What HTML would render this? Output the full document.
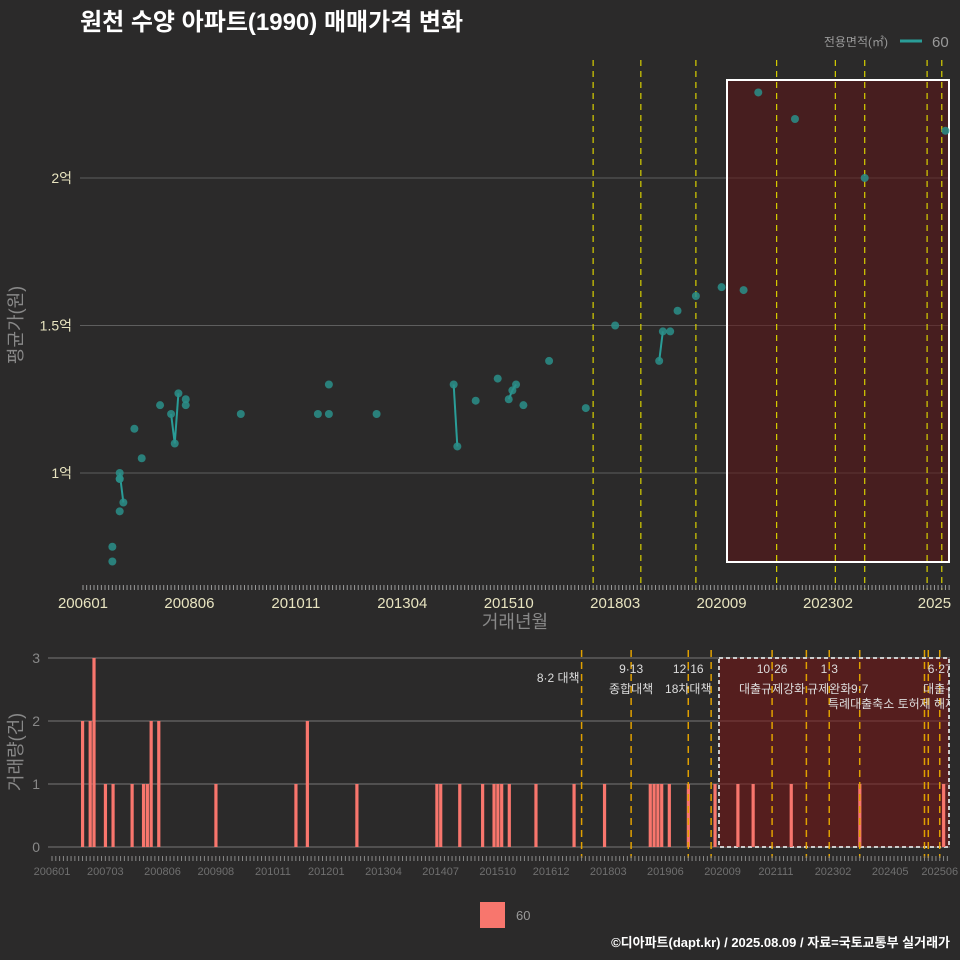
<!DOCTYPE html>
<html><head><meta charset="utf-8"><style>
body{margin:0;background:#2b2a2a;}
svg{display:block;font-family:"Liberation Sans","Noto Sans CJK KR",sans-serif;}
</style></head><body>
<svg id="c" width="960" height="960" viewBox="0 0 960 960">
<rect width="960" height="960" fill="#2b2a2a"/>
<text x="80" y="30" font-size="24" font-weight="bold" fill="#fff">원천 수양 아파트(1990) 매매가격 변화</text>
<text x="888" y="46" font-size="12" fill="#999" text-anchor="end">전용면적(㎡)</text>
<line x1="900" y1="41" x2="922" y2="41" stroke="#2a9d98" stroke-width="3"/>
<text x="932" y="47" font-size="15" fill="#999">60</text>
<g id="top"></g><g id="bot"></g>
<text x="515" y="628" font-size="18" fill="#888" text-anchor="middle">거래년월</text>
<text transform="translate(22,325) rotate(-90)" font-size="18" fill="#888" text-anchor="middle">평균가(원)</text>
<text transform="translate(22,752) rotate(-90)" font-size="18" fill="#888" text-anchor="middle">거래량(건)</text>
<rect x="480" y="902" width="25" height="26" fill="#f8766d"/>
<text x="516" y="920" font-size="13" fill="#999">60</text>
<text x="950" y="947" font-size="13" font-weight="bold" fill="#fff" text-anchor="end">©디아파트(dapt.kr) / 2025.08.09 / 자료=국토교통부 실거래가</text>
</svg>
<script>
// months since 2006-01
const priceMonths=[8,8,10,10,10,10,11,14,16,21,24,25,26,28,28,43,64,67,67,80,101,102,107,113,116,117,118,120,127,137,145,157,158,160,162,167,174,180,184,194,213,235];
const priceValues=[7500,7000,8700,9800,9800,10000,9000,11500,10500,12300,12000,11000,12700,12500,12300,12000,12000,12000,13000,12000,13000,10900,12450,13200,12500,12800,13000,12300,13800,12200,15000,13800,14800,14800,15500,16000,16300,16200,22900,22000,20000,21600];
const volMonths=[8,10,11,14,16,21,24,25,26,28,43,64,67,80,101,102,107,113,116,117,118,120,127,137,145,157,158,159,160,162,167,174,180,184,194,212,234];
const volValues=[2,2,3,1,1,1,1,1,2,2,1,1,2,1,1,1,1,1,1,1,1,1,1,1,1,1,1,1,1,1,1,1,1,1,1,1,1];
const yTicks=[10000,15000,20000];
const yTickLabels=["1억","1.5억","2억"];
const vTicks=[0,1,2,3];
const topLabelMonths=[0,29,58,87,116,145,174,203,232];
const topLabels=["200601","200806","201011","201304","201510","201803","202009","202302","2025"];
const botLabelMonths=[0,14,29,43,58,72,87,102,117,131,146,161,176,190,205,220,233];
const botLabels=["200601","200703","200806","200908","201011","201201","201304","201407","201510","201612","201803","201906","202009","202111","202302","202405","202506"];
const policyTop=[139,152,167,189,205,213,230,234];
const policyBot=[139,152,167,173,189,198,204,212,229,230,233];
const notes=[[139,"","8·2 대책"],[152,"9·13","종합대책"],[167,"12·16","18차대책"],[189,"10·26","대출규제강화"],[204,"1·3","규제완화"],[212,"","9·7"],[233,"6·27","대출규"]];
const NS="http://www.w3.org/2000/svg";
const xT=m=>83+3.67*m, yT=v=>473-(v-10000)*0.0295;
const xB=m=>52+3.81*m, yB=v=>847-v*63;
function mk(par,tag,at){const e=document.createElementNS(NS,tag);for(const k in at)e.setAttribute(k,at[k]);par.appendChild(e);return e;}
const T=document.getElementById('top'),B=document.getElementById('bot');
yTicks.forEach((v,i)=>{
 const g=mk(T,'line',{x1:80,x2:950,y1:yT(v),y2:yT(v),stroke:'#5e5e5e'});
 
 
 const t=mk(T,'text',{x:72,y:yT(v)+5,'font-size':14,fill:'#e8e4c0','text-anchor':'end'});t.textContent=yTickLabels[i];
 
 
});
const r1=mk(T,'rect',{x:727,y:80,width:222,height:482,fill:'rgba(95,20,22,0.55)',stroke:'#fff','stroke-width':2});


policyTop.forEach(m=>{const l=mk(T,'line',{x1:xT(m),x2:xT(m),y1:60,y2:590,stroke:'#d8d000','stroke-width':1.2,'stroke-dasharray':'6,5'});
 
 });
for(let m=0;m<=236;m++){mk(T,'line',{x1:xT(m),x2:xT(m),y1:585,y2:590,stroke:'#999'});}
topLabelMonths.forEach((m,i)=>{const t=mk(T,'text',{x:xT(m),y:608,'font-size':15,fill:'#e8e4c0','text-anchor':'middle'});t.textContent=topLabels[i];
 
 });
for(let i=1;i<priceMonths.length;i++){const d=priceMonths[i]-priceMonths[i-1];if(d===1){
 const l=mk(T,'line',{x1:xT(priceMonths[i-1]),y1:yT(priceValues[i-1]),x2:xT(priceMonths[i]),y2:yT(priceValues[i]),stroke:'#2a9d98','stroke-width':2});
 
 }}
priceMonths.forEach((m,i)=>{const c=mk(T,'circle',{cx:xT(m),cy:yT(priceValues[i]),r:4,fill:'#2a8f8a','fill-opacity':0.85});
 
 });
// bottom
vTicks.forEach(v=>{const g=mk(B,'line',{x1:48,x2:950,y1:yB(v),y2:yB(v),stroke:'#777'});
 
 
 const t=mk(B,'text',{x:40,y:yB(v)+5,'font-size':14,fill:'#888','text-anchor':'end'});t.textContent=v;
 
 });
const r2=mk(B,'rect',{x:719,y:658,width:230,height:189,fill:'rgba(120,20,20,0.55)',stroke:'#ccc','stroke-width':2,'stroke-dasharray':'4,3'});


volMonths.forEach((m,i)=>{const b=mk(B,'rect',{x:xB(m)-1.5,y:yB(volValues[i]),width:3.2,height:volValues[i]*63,fill:'#f8766d'});
 
 });
policyBot.forEach(m=>{const l=mk(B,'line',{x1:xB(m),x2:xB(m),y1:650,y2:858,stroke:'#e0a000','stroke-width':1.5,'stroke-dasharray':'7,5'});
 
 });
notes.forEach(n=>{const x=xB(n[0]);
 if(n[1]){const t=mk(B,'text',{x:x,y:673,'font-size':12,fill:'#ddd','text-anchor':'middle'});t.textContent=n[1];
  
  }
 const t2=mk(B,'text',{x:n[0]===139?x-2:x,y:n[0]===139?682:693,'font-size':12,fill:'#ddd','text-anchor':n[0]===139?'end':'middle'});t2.textContent=n[2];
 
 });
const t3=mk(B,'text',{x:828,y:708,'font-size':12,fill:'#ddd'});t3.textContent='특례대출축소 토허제 해제';


mk(B,'rect',{x:950,y:650,width:10,height:200,fill:'#2b2a2a'});
for(let m=0;m<=235;m++){mk(B,'line',{x1:xB(m),x2:xB(m),y1:856,y2:861,stroke:'#888'});}
botLabelMonths.forEach((m,i)=>{const t=mk(B,'text',{x:xB(m),y:875,'font-size':11,fill:'#6f6f6f','text-anchor':'middle'});t.textContent=botLabels[i];
 
 });
</script>
</body></html>
